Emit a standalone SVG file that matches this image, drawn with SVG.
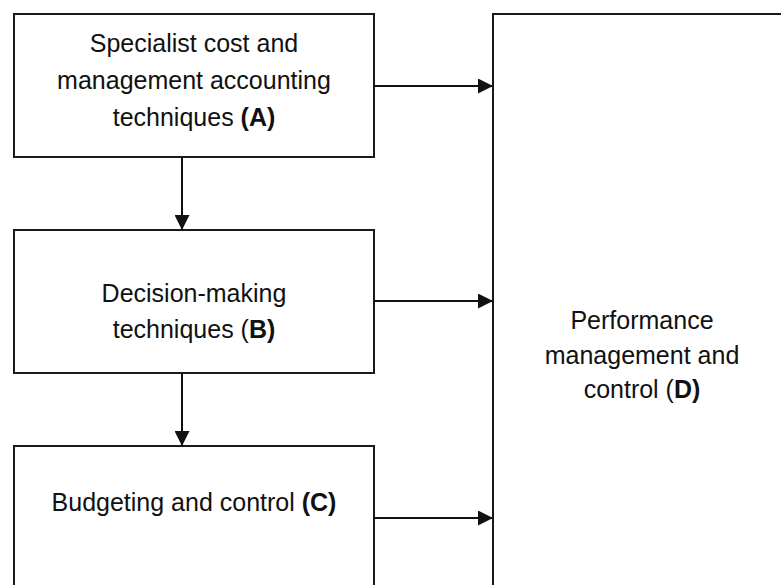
<svg xmlns="http://www.w3.org/2000/svg" width="781" height="585" viewBox="0 0 781 585">
<style>
.box{fill:#fff;stroke:#1a1a1a;stroke-width:2}
.lbl{font-family:"Liberation Sans",Arial,sans-serif;font-size:25px;fill:#111;text-anchor:middle}
.b{font-weight:bold}
.conn{stroke:#111;stroke-width:2;fill:none}
</style>
<defs>
<marker id="ah" markerWidth="15" markerHeight="15" refX="15" refY="7.5" orient="auto" markerUnits="userSpaceOnUse">
<path d="M0,0 L15,7.5 L0,15 Z" fill="#111"/>
</marker>
</defs>
<rect width="781" height="585" fill="#fff"/>
<g id="nodeA">
<rect class="box" x="14" y="14" width="360" height="143"/>
<text class="lbl" x="194" y="52">Specialist cost and</text>
<text class="lbl" x="194" y="89">management accounting</text>
<text class="lbl" x="194" y="126">techniques <tspan class="b">(A)</tspan></text>
</g>
<g id="nodeB">
<rect class="box" x="14" y="230" width="360" height="143"/>
<text class="lbl" x="194" y="302">Decision-making</text>
<text class="lbl" x="194" y="338">techniques (<tspan class="b">B)</tspan></text>
</g>
<g id="nodeC">
<rect class="box" x="14" y="446" width="360" height="150"/>
<text class="lbl" x="194" y="511">Budgeting and control <tspan class="b">(C)</tspan></text>
</g>
<g id="nodeD">
<rect class="box" x="493" y="14" width="310" height="590"/>
<text class="lbl" x="642" y="329">Performance</text>
<text class="lbl" x="642" y="364">management and</text>
<text class="lbl" x="642" y="398">control (<tspan class="b">D)</tspan></text>
</g>
<g id="connectors">
<line class="conn" x1="374" y1="86" x2="493" y2="86" marker-end="url(#ah)"/>
<line class="conn" x1="374" y1="301" x2="493" y2="301" marker-end="url(#ah)"/>
<line class="conn" x1="374" y1="518" x2="493" y2="518" marker-end="url(#ah)"/>
<line class="conn" x1="182" y1="157" x2="182" y2="230" marker-end="url(#ah)"/>
<line class="conn" x1="182" y1="373" x2="182" y2="446" marker-end="url(#ah)"/>
</g>
</svg>
